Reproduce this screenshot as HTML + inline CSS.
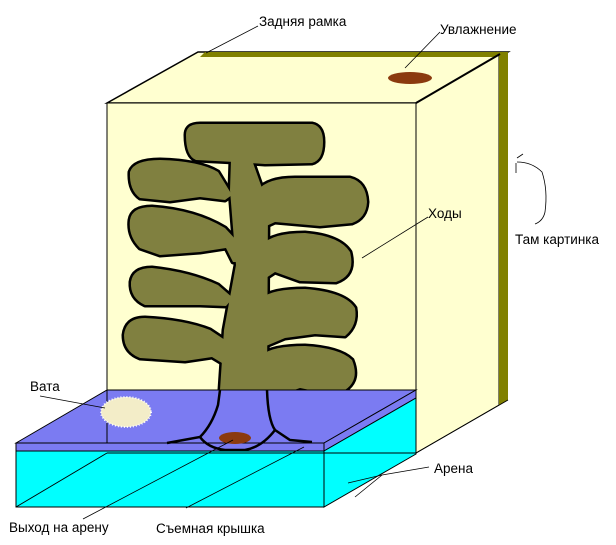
<!DOCTYPE html>
<html><head><meta charset="utf-8"><style>
html,body{margin:0;padding:0;background:#fff;}
svg{display:block;}
text{font-family:"Liberation Sans",sans-serif;font-size:13.5px;fill:#000;}
</style></head><body>
<svg width="616" height="545" viewBox="0 0 616 545" xmlns="http://www.w3.org/2000/svg" xmlns:xlink="http://www.w3.org/1999/xlink">
<defs>
<g id="t">
<path d="M186,135 Q186,124 200,124 L312,124 Q323,126 323,142 Q323,160 312,163 L265,164 L235,162 L196,160 Q186,156 186,135 Z"/>
<polygon points="231,160 252,160 268,205 267,390 220,390 224,330 236,265 232,215 230,190"/>
<!-- left blobs -->
<path d="M130,172 Q134,160 160,160 Q200,161 218,172 L232,195 L225,200 L200,197 L170,201 L140,198 Q129,190 130,172 Z"/>
<path d="M130,220 Q132,207 152,207 Q195,210 225,228 L238,242 L239,262 L233,262 L226,248 L200,252 L160,255 L140,248 Q128,236 130,220 Z"/>
<path d="M131,282 Q133,268 152,268 Q190,272 218,285 L233,298 L226,306 L200,305 L145,305 Q130,298 131,282 Z"/>
<path d="M124,335 Q126,318 145,318 Q185,320 210,330 L225,340 L222,363 L212,357 L185,361 L140,358 Q124,352 124,335 Z"/>
<!-- right blobs -->
<path d="M258,190 Q268,178 295,178 L350,178 Q366,182 367,202 Q366,218 352,223 L320,226 L275,222 L262,228 L258,215 Z"/>
<path d="M262,245 Q272,233 305,233 Q340,236 350,252 Q356,275 336,282 L300,281 L275,272 L266,278 Z"/>
<path d="M262,298 Q272,289 305,289 Q345,292 355,308 Q358,325 345,336 L315,334 L285,338 L266,346 Z"/>
<path d="M262,355 Q272,346 305,346 Q340,348 352,360 Q360,380 345,390 L320,392 L300,388 L280,395 L266,390 Z"/>
</g>
</defs>
<!-- box -->
<polygon points="107,103 198,52 508,52 416,103" fill="#FFFFD0" stroke="#000" stroke-width="1.5"/>
<polygon points="205,52 508,52 499,57 200,57" fill="#808000"/>
<polygon points="416,103 499,55 499,405 416,453" fill="#FFFFD0" stroke="#000" stroke-width="1"/>
<polygon points="499,55 508,52 508,400 499,405" fill="#808000"/>
<line x1="416" y1="103" x2="500" y2="54" stroke="#000" stroke-width="2"/>
<line x1="508" y1="400" x2="416" y2="453" stroke="#000" stroke-width="1"/>
<rect x="107" y="103" width="309" height="300" fill="#FFFFD0" stroke="#000" stroke-width="1"/>
<ellipse cx="410" cy="78" rx="22" ry="6" fill="#8B3A0E"/>

<!-- tunnels -->
<use xlink:href="#t" href="#t" fill="#808040" stroke="#000" stroke-width="5" stroke-linejoin="round"/>
<use xlink:href="#t" href="#t" fill="#808040" stroke="none"/>

<!-- lid -->
<polygon points="16,443 107,390 416,390 324,443" fill="#7B7BF2" stroke="#000" stroke-width="1"/>
<polygon points="324,443 416,390 416,398 324,451" fill="#7B7BF2" stroke="#000" stroke-width="1"/>
<rect x="16" y="443" width="308" height="8" fill="#7B7BF2" stroke="#000" stroke-width="1"/>
<!-- arena -->
<rect x="16" y="451" width="308" height="56" fill="#00FFFF" stroke="#000" stroke-width="1"/>
<polygon points="324,451 416,398 416,454 324,507" fill="#00FFFF" stroke="#000" stroke-width="1"/>
<line x1="107" y1="390" x2="107" y2="443" stroke="#000" stroke-width="1"/>
<line x1="107" y1="453" x2="416" y2="453" stroke="#000" stroke-width="1"/>
<line x1="107" y1="453" x2="16" y2="507" stroke="#000" stroke-width="1"/>
<!-- tunnel over lid -->
<path d="M220,390 L218,405 Q212,425 200,437 L167,443" fill="none" stroke="#000" stroke-width="2.5"/>
<path d="M267,390 Q268,420 275,430 L290,440 L312,442" fill="none" stroke="#000" stroke-width="2.5"/>
<path d="M200,437 Q208,448 225,450 L245,450 Q262,447 275,430" fill="none" stroke="#000" stroke-width="2.5"/>
<ellipse cx="235" cy="438" rx="16" ry="6" fill="#8B3A0E"/>
<!-- vata -->
<ellipse cx="126" cy="412" rx="25" ry="15" fill="#F3EDC8" stroke="#fff" stroke-width="2" stroke-dasharray="1 2"/>

<!-- labels -->
<g stroke="#000" stroke-width="0.8" fill="none">
<line x1="258" y1="26" x2="206" y2="53"/>
<line x1="440" y1="32" x2="405" y2="68"/>
<line x1="428" y1="217" x2="362" y2="258"/>
<line x1="40" y1="396" x2="105" y2="408"/>
<line x1="83" y1="519" x2="233" y2="440"/>
<line x1="186" y1="508" x2="304" y2="447"/>
<polyline points="429,467 382,475 348,483"/>
<line x1="382" y1="475" x2="355" y2="497"/>
<path d="M517,158 L523,154 M517,162 Q532,162 542,172 Q548,190 545,212 Q543,221 535,224"/>
<line x1="516" y1="163" x2="516" y2="173"/>
</g>
<text x="259" y="26">Задняя рамка</text>
<text x="440" y="34">Увлажнение</text>
<text x="428" y="218">Ходы</text>
<text x="515" y="244">Там картинка</text>
<text x="30" y="391">Вата</text>
<text x="434" y="473">Арена</text>
<text x="9" y="532">Выход на арену</text>
<text x="156" y="533">Съемная крышка</text>
</svg>
</body></html>
